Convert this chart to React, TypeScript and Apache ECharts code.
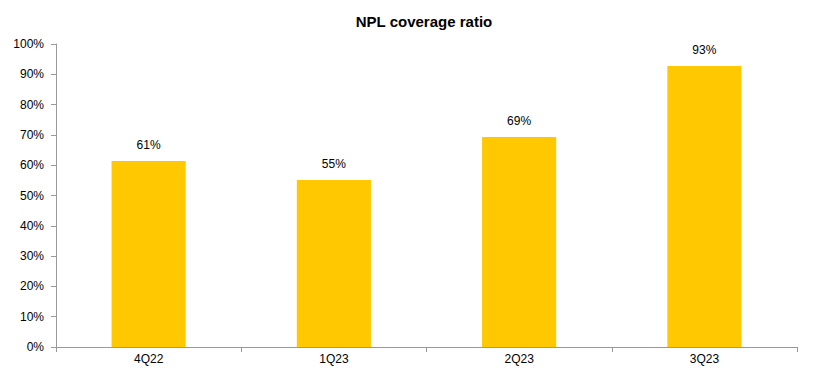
import React, { useEffect, useRef } from "react";
import * as echarts from "echarts";

const categories = ["4Q22", "1Q23", "2Q23", "3Q23"];
const values = [61.4, 55.1, 69.3, 92.7];
const labels = ["61%", "55%", "69%", "93%"];

export default function App() {
  const ref = useRef<HTMLDivElement>(null);
  useEffect(() => {
    const chart = echarts.init(ref.current!, null, { renderer: "svg" });
    chart.setOption({
      animation: false,
      title: {
        text: "NPL coverage ratio",
        left: 419,
        textAlign: "center",
        top: 9,
        textStyle: { fontFamily: "Liberation Sans", fontSize: 15, fontWeight: "bold", color: "#000" },
      },
      grid: { left: 56, right: 30, top: 44, bottom: 24 },
      xAxis: {
        type: "category",
        data: categories,
        axisLine: { lineStyle: { color: "#999", width: 1 } },
        axisTick: { show: true, alignWithLabel: false, length: 5, lineStyle: { color: "#999" } },
        axisLabel: { color: "#000", fontFamily: "Liberation Sans", fontSize: 12, margin: 6 },
      },
      yAxis: {
        type: "value",
        min: 0,
        max: 100,
        interval: 10,
        splitLine: { show: false },
        axisLine: { show: true, lineStyle: { color: "#999", width: 1 } },
        axisTick: { show: true, length: 5, lineStyle: { color: "#999" } },
        axisLabel: {
          color: "#000",
          fontFamily: "Liberation Sans",
          fontSize: 12,
          margin: 12,
          formatter: (v: number) => v + "%",
        },
      },
      series: [
        {
          type: "bar",
          data: values,
          barWidth: "40%",
          itemStyle: { color: "#FFC800" },
          label: {
            show: true,
            position: "top",
            distance: 10,
            color: "#000",
            fontFamily: "Liberation Sans",
            fontSize: 12,
            formatter: (p: any) => labels[p.dataIndex],
          },
        },
      ],
    });
    return () => chart.dispose();
  }, []);
  return <div ref={ref} style={{ width: 827, height: 371, position: "absolute", left: 0, top: 0 }} />;
}
